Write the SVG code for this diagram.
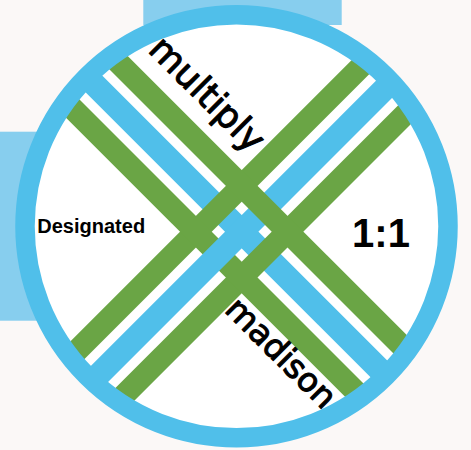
<svg xmlns="http://www.w3.org/2000/svg" width="471" height="450" viewBox="0 0 471 450">
  <defs>
    <clipPath id="inner">
      <circle cx="236.5" cy="226.3" r="211"/>
    </clipPath>
    <style>
      .green { fill: #6AA545; }
      .blue { fill: #50BFEA; }
      .word { font-family: "DejaVu Sans", "Liberation Sans", sans-serif; fill: #000; stroke: #000; stroke-width: 1.1; stroke-linejoin: round; }
      .label { font-family: "Liberation Sans", Arial, sans-serif; font-weight: bold; fill: #000; }
    </style>
  </defs>
  <rect x="0" y="0" width="471" height="450" fill="#FBF8F7"/>
  <g id="backdrop">
    <rect x="143.3" y="0" width="198.4" height="25" fill="#87CEEE"/>
    <rect x="0" y="131.7" width="80" height="189" fill="#87CEEE"/>
  </g>
  <g id="disc">
    <circle cx="236.5" cy="226.3" r="211" fill="#FFFFFF"/>
    <g clip-path="url(#inner)">
      <rect class="blue" transform="translate(241.7,231.7) rotate(45)" x="-320" y="-11.8" width="640" height="23.6"/>
      <rect class="green" transform="translate(241.7,231.7) rotate(-45)" x="-320" y="-43.6" width="640" height="22.4"/>
      <rect class="green" transform="translate(241.7,231.7) rotate(-45)" x="-320" y="21.2" width="640" height="22.4"/>
      <rect class="green" transform="translate(241.7,231.7) rotate(45)" x="-320" y="21.2" width="640" height="22.4"/>
      <rect class="blue" transform="translate(241.7,231.7) rotate(-45)" x="-320" y="-11.8" width="640" height="23.6"/>
      <rect class="green" transform="translate(241.7,231.7) rotate(45)" x="-320" y="-43.6" width="640" height="22.4"/>
    </g>
    <circle cx="236.5" cy="226.3" r="211.5" fill="none" stroke="#50BFEA" stroke-width="19.5"/>
  </g>
  <g id="texts">
    <text class="word" transform="translate(147,51) rotate(45)" font-size="36">multiply</text>
    <text class="word" transform="translate(223.5,311) rotate(45)" font-size="33">madison</text>
    <text class="label" x="37.3" y="232.7" font-size="20">Designated</text>
    <text class="label" x="381" y="246.7" font-size="40" text-anchor="middle">1:1</text>
  </g>
</svg>
